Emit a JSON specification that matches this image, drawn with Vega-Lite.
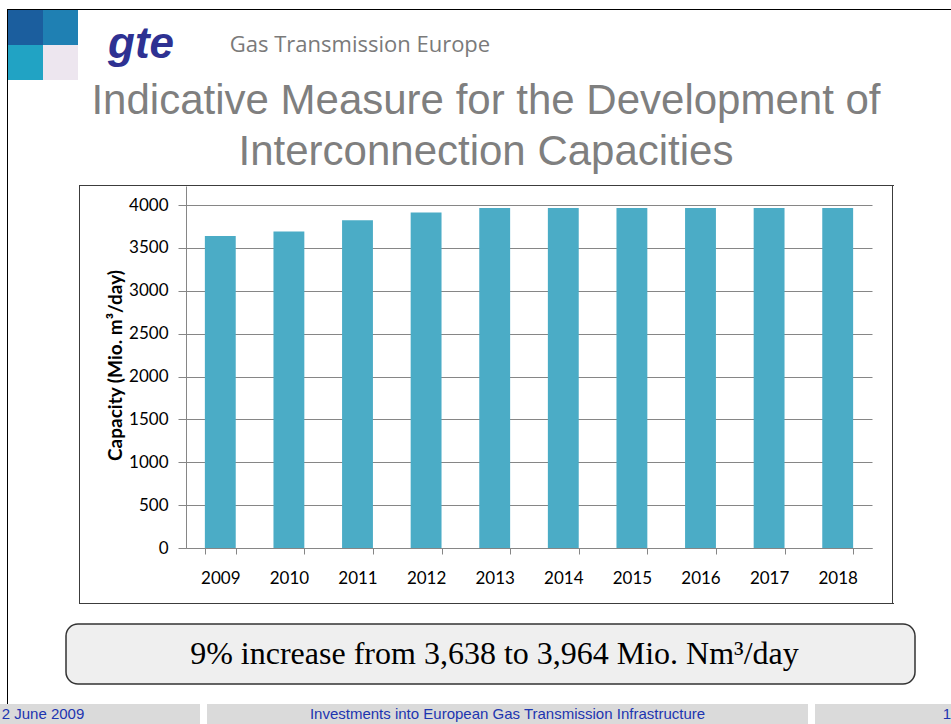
{
  "$schema": "https://vega.github.io/schema/vega-lite/v6.json",
  "background": "white",
  "padding": {"top": 9, "left": 0, "right": 0, "bottom": 0},
  "bounds": "full",
  "spacing": 0,
  "config": {"view": {"stroke": null}, "concat": {"spacing": 0}},
  "vconcat": [
    {
      "bounds": "flush", "spacing": 0,
      "hconcat": [
        {"width": 7, "height": 1, "data": {"values": []}, "mark": "text", "encoding": {"text": {"field": "t"}}},
        {"width": 944, "height": 1, "view": {"fill": "#000000"}, "data": {"values": []}, "mark": "text", "encoding": {"text": {"field": "t"}}}
      ]
    },
    {
      "bounds": "full", "spacing": 0,
      "hconcat": [
        {"width": 7, "height": 694, "data": {"values": []}, "mark": "text", "encoding": {"text": {"field": "t"}}},
        {"width": 1, "height": 694, "view": {"fill": "#000000"}, "data": {"values": []}, "mark": "text", "encoding": {"text": {"field": "t"}}},
        {
          "bounds": "full", "spacing": 0,
          "vconcat": [
            {
              "bounds": "flush", "spacing": 0,
              "hconcat": [
                {
                  "width": 70, "height": 70,
                  "data": {"values": [
                    {"row": "top", "col": "left", "cell": "dark"},
                    {"row": "top", "col": "right", "cell": "mid"},
                    {"row": "bottom", "col": "left", "cell": "cyan"},
                    {"row": "bottom", "col": "right", "cell": "pale"}
                  ]},
                  "mark": "rect",
                  "encoding": {
                    "x": {"field": "col", "type": "nominal", "sort": ["left", "right"], "axis": null, "scale": {"paddingInner": 0, "paddingOuter": 0}},
                    "y": {"field": "row", "type": "nominal", "sort": ["top", "bottom"], "axis": null, "scale": {"paddingInner": 0, "paddingOuter": 0}},
                    "color": {"field": "cell", "type": "nominal", "scale": {"domain": ["dark", "mid", "cyan", "pale"], "range": ["#1b5e9e", "#1f80b3", "#21a3c4", "#ede6ef"]}, "legend": null}
                  }
                },
                {
                  "width": 126, "height": 70,
                  "data": {"values": [{"logo": "gte"}]},
                  "mark": {"type": "text", "font": "Liberation Sans", "fontSize": 44, "fontWeight": "bold", "fontStyle": "italic", "color": "#2e3192", "baseline": "middle"},
                  "encoding": {"text": {"field": "logo"}}
                },
                {
                  "width": 312, "height": 70,
                  "data": {"values": [{"name": "Gas Transmission Europe"}]},
                  "mark": {"type": "text", "font": "Open Sans", "fontSize": 22, "color": "#7a7a7a", "baseline": "middle"},
                  "encoding": {"text": {"field": "name"}}
                }
              ]
            },
            {
              "bounds": "flush", "spacing": 0,
              "hconcat": [
                {"width": 1, "height": 104, "data": {"values": []}, "mark": "text", "encoding": {"text": {"field": "t"}}},
                {
                  "width": 954, "height": 51,
                  "data": {"values": [
                    {"line": 1, "heading": "Indicative Measure for the Development of"},
                    {"line": 2, "heading": "Interconnection Capacities"}
                  ]},
                  "mark": {"type": "text", "font": "Liberation Sans", "fontSize": 42, "color": "#7f7f7f", "baseline": "top"},
                  "encoding": {
                    "y": {"field": "line", "type": "ordinal", "axis": null, "scale": {"type": "point", "padding": 0}},
                    "text": {"field": "heading"}
                  }
                }
              ]
            },
            {
              "bounds": "flush", "spacing": 0,
              "hconcat": [
                {"width": 71, "height": 1, "data": {"values": []}, "mark": "text", "encoding": {"text": {"field": "t"}}},
                {"width": 815, "height": 1, "view": {"fill": "#3c3c3c"}, "data": {"values": []}, "mark": "text", "encoding": {"text": {"field": "t"}}}
              ]
            },
            {
              "bounds": "flush", "spacing": 0,
              "hconcat": [
                {"width": 71, "height": 417, "data": {"values": []}, "mark": "text", "encoding": {"text": {"field": "t"}}},
                {"width": 1, "height": 417, "view": {"fill": "#3c3c3c"}, "data": {"values": []}, "mark": "text", "encoding": {"text": {"field": "t"}}},
                {"width": 106, "height": 417, "data": {"values": []}, "mark": "text", "encoding": {"text": {"field": "t"}}},
                {
                  "width": 686, "height": 362,
                  "data": {"values": [
                    {"year": "2009", "capacity": 3638},
                    {"year": "2010", "capacity": 3690},
                    {"year": "2011", "capacity": 3822},
                    {"year": "2012", "capacity": 3912},
                    {"year": "2013", "capacity": 3964},
                    {"year": "2014", "capacity": 3964},
                    {"year": "2015", "capacity": 3964},
                    {"year": "2016", "capacity": 3964},
                    {"year": "2017", "capacity": 3964},
                    {"year": "2018", "capacity": 3964}
                  ]},
                  "mark": {"type": "bar", "color": "#4bacc6"},
                  "encoding": {
                    "x": {
                      "field": "year", "type": "ordinal",
                      "scale": {"paddingInner": 0.55, "paddingOuter": 0.275},
                      "axis": {"title": null, "labelAngle": 0, "labelFont": "Lato", "labelFontSize": 17, "labelColor": "#000000", "labelPadding": 16, "tickBand": "extent", "tickSize": 6, "tickColor": "#868686", "domainColor": "#868686", "grid": false}
                    },
                    "y": {
                      "field": "capacity", "type": "quantitative",
                      "scale": {"domain": [0, 4221.6], "nice": false},
                      "axis": {"values": [0, 500, 1000, 1500, 2000, 2500, 3000, 3500, 4000], "format": "d", "title": "Capacity (Mio. m³/day)", "titleFont": "Lato", "titleFontSize": 19, "titleFontWeight": "bold", "titleColor": "#000000", "titlePadding": 3, "titleY": 179, "labelFont": "Lato", "labelFontSize": 17, "labelColor": "#000000", "labelPadding": 10, "tickSize": 8, "tickColor": "#868686", "domainColor": "#868686", "gridColor": "#868686", "gridOpacity": 1}
                    }
                  }
                },
                {"width": 20, "height": 417, "data": {"values": []}, "mark": "text", "encoding": {"text": {"field": "t"}}},
                {"width": 1, "height": 417, "view": {"fill": "#3c3c3c"}, "data": {"values": []}, "mark": "text", "encoding": {"text": {"field": "t"}}}
              ]
            },
            {
              "bounds": "flush", "spacing": 0,
              "hconcat": [
                {"width": 71, "height": 20, "data": {"values": []}, "mark": "text", "encoding": {"text": {"field": "t"}}},
                {"width": 815, "height": 1, "view": {"fill": "#3c3c3c"}, "data": {"values": []}, "mark": "text", "encoding": {"text": {"field": "t"}}}
              ]
            },
            {
              "bounds": "flush", "spacing": 0,
              "hconcat": [
                {"width": 58, "height": 60, "data": {"values": []}, "mark": "text", "encoding": {"text": {"field": "t"}}},
                {
                  "width": 849, "height": 60,
                  "view": {"fill": "#efefef", "stroke": "#333333", "strokeWidth": 1.5, "cornerRadius": 12},
                  "data": {"values": [{"note": "9% increase from 3,638 to 3,964 Mio. Nm³/day"}]},
                  "mark": {"type": "text", "font": "Liberation Serif", "fontSize": 32, "color": "#000000", "dx": 4},
                  "encoding": {"text": {"field": "note"}}
                }
              ]
            }
          ]
        }
      ]
    },
    {
      "bounds": "flush", "spacing": 0,
      "hconcat": [
        {"width": 86, "height": 20, "view": {"fill": "#dadada"}, "data": {"values": [{"t": "2 June 2009"}]}, "mark": {"type": "text", "font": "Liberation Sans", "fontSize": 15, "color": "#1d35b0"}, "encoding": {"text": {"field": "t"}}},
        {"width": 114, "height": 20, "view": {"fill": "#dadada"}, "data": {"values": []}, "mark": "text", "encoding": {"text": {"field": "t"}}},
        {"width": 7, "height": 20, "data": {"values": []}, "mark": "text", "encoding": {"text": {"field": "t"}}},
        {"width": 601, "height": 20, "view": {"fill": "#dadada"}, "data": {"values": [{"t": "Investments into European Gas Transmission Infrastructure"}]}, "mark": {"type": "text", "font": "Liberation Sans", "fontSize": 15, "color": "#1d35b0"}, "encoding": {"text": {"field": "t"}}},
        {"width": 7, "height": 20, "data": {"values": []}, "mark": "text", "encoding": {"text": {"field": "t"}}},
        {"width": 121, "height": 20, "view": {"fill": "#dadada"}, "data": {"values": []}, "mark": "text", "encoding": {"text": {"field": "t"}}},
        {"width": 30, "height": 20, "view": {"fill": "#dadada"}, "data": {"values": [{"t": "17"}]}, "mark": {"type": "text", "font": "Liberation Sans", "fontSize": 15, "color": "#1d35b0"}, "encoding": {"text": {"field": "t"}}}
      ]
    }
  ]
}
